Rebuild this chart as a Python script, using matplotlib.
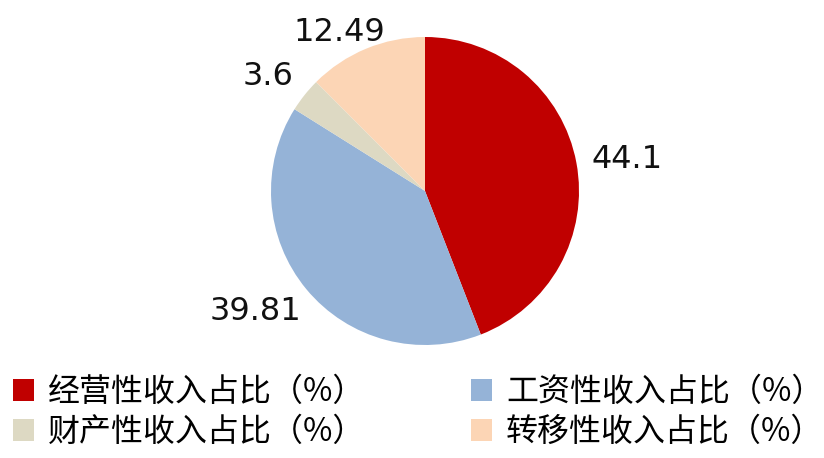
import matplotlib
matplotlib.use("Agg")
import matplotlib.pyplot as plt
from matplotlib.patches import Patch

plt.rcParams['font.family'] = ['Noto Sans CJK SC', 'DejaVu Sans']

categories = ["经营性收入占比（%）", "工资性收入占比（%）", "财产性收入占比（%）", "转移性收入占比（%）"]
values = [44.1, 39.81, 3.6, 12.49]
value_labels = ["44.1", "39.81", "3.6", "12.49"]
colors = ["#C00000", "#95B3D7", "#DDD9C3", "#FCD5B5"]

# label nudges in pixels (style only)
label_nudge_px = [(0, 0), (7, -13), (1, 9), (25, 2)]

W, H = 824, 458
fig = plt.figure(figsize=(W / 100, H / 100), dpi=100)
cx, cy, R = 425, 191, 154
half = 200
ax = fig.add_axes([(cx - half) / W, (H - cy - half) / H, 2 * half / W, 2 * half / H])
ax.axis('off')

wedges, texts = ax.pie(values, colors=colors, startangle=90, counterclock=False,
                       labels=value_labels, labeldistance=1.1, radius=1,
                       textprops=dict(fontsize=23, family='DejaVu Sans', color='#111111'))
ax.set_xlim(-half / R, half / R)
ax.set_ylim(-half / R, half / R)
for t, (dx, dy) in zip(texts, label_nudge_px):
    x, y = t.get_position()
    t.set_position((x + dx / R, y + dy / R))

handles = [Patch(facecolor=c, edgecolor='none') for c in colors]
order = [0, 2, 1, 3]
leg = fig.legend([handles[i] for i in order], [categories[i] for i in order], ncol=2,
                 loc='lower left', bbox_to_anchor=(0.0, -0.0066), frameon=False,
                 fontsize=23, handlelength=0.66, handleheight=0.66, handletextpad=0.44,
                 columnspacing=3.3, labelspacing=0.245, borderaxespad=0.0)
fig.savefig("out.png", dpi=100)
